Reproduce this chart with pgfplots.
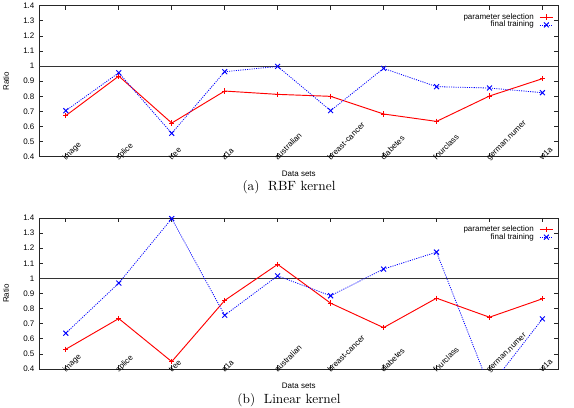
\documentclass[border=0pt]{standalone}
\usepackage{fontspec}
\newfontfamily\helv{Liberation Sans}
\usepackage{pgfplots}
\pgfplotsset{compat=1.18}

% Ratio of training time per data set, RBF and linear kernels
% columns: x index, parameter selection, final training
\newcommand{\rbfsel}{(0,0.672) (1,0.934) (2,0.623) (3,0.835) (4,0.813) (5,0.800) (6,0.683) (7,0.634) (8,0.802) (9,0.917)}
\newcommand{\rbffin}{(0,0.705) (1,0.956) (2,0.555) (3,0.963) (4,0.998) (5,0.705) (6,0.985) (7,0.864) (8,0.855) (9,0.824)}
\newcommand{\linsel}{(0,0.531) (1,0.734) (2,0.449) (3,0.854) (4,1.093) (5,0.836) (6,0.674) (7,0.869) (8,0.743) (9,0.865)}
\newcommand{\linfin}{(0,0.637) (1,0.969) (2,1.396) (3,0.756) (4,1.017) (5,0.885) (6,1.062) (7,1.174) (8,0.28) (9,0.732)}

\pgfplotsset{
  ratioaxis/.style={
    scale only axis,
    width=389.25pt, height=113.25pt,
    anchor=south west,
    xmin=-0.5, xmax=9.3,
    ymin=0.4, ymax=1.4,
    xtick={0,...,9},
    xticklabels={image,splice,tree,a1a,australian,breast-cancer,diabetes,fourclass,german.numer,w1a},
    ytick={0.4,0.5,0.6,0.7,0.8,0.9,1,1.1,1.2,1.3,1.4},
    yticklabels={0.4,0.5,0.6,0.7,0.8,0.9,1,1.1,1.2,1.3,1.4},
    tick align=inside,
    xtick pos=both, ytick pos=both,
    xticklabel pos=lower, yticklabel pos=left,
    major tick length=3pt,
    tick style={black!85, line width=0.5pt},
    axis line style={black!85, line width=0.7pt},
    font=\helv\fontsize{6}{7}\selectfont,
    /pgf/number format/assume math mode=true,
    xticklabel style={anchor=base west, rotate=45, inner sep=0pt},
    xticklabel shift=3pt,
    yticklabel style={anchor=east, inner sep=0pt, xshift=-3.5pt},
    xlabel={Data sets},
    ylabel={Ratio},
    xlabel style={at={(axis description cs:0.5,-0.11)}, anchor=center},
    ylabel style={at={(axis description cs:-0.0643,0.5)}, anchor=center},
    legend style={at={(axis description cs:0.999,0.975)}, anchor=north east,
      draw=none, fill=none, row sep=-1.2pt,
      nodes={inner sep=0.6pt},
      /tikz/every odd column/.append style={column sep=3.5pt}},
    legend cell align=right,
    legend plot pos=right,
    legend image code/.code={%
      \draw[mark repeat=2,mark phase=2,##1] plot coordinates {(0pt,0pt) (5pt,0pt) (10pt,0pt)};},
  },
  selstyle/.style={red, line width=0.7pt, mark=+, mark size=2pt, mark options={solid, line width=0.6pt}},
  finstyle/.style={blue, line width=0.6pt, dash pattern=on 0.8pt off 0.9pt, mark=x, mark size=2.6pt, mark options={solid, line width=0.7pt}},
  unitline/.style={black!80, line width=0.6pt, no marks, forget plot},
}

\begin{document}
\begin{tikzpicture}
\useasboundingbox (0,0) rectangle (430.5pt,305.25pt);

% (a) RBF kernel
\begin{axis}[ratioaxis, at={(29.5pt,187.7pt)}]
  \addplot[unitline] coordinates {(-0.5,1) (9.3,1)};
  \addplot[selstyle] coordinates {\rbfsel};
  \addlegendentry{parameter selection}
  \addplot[finstyle] coordinates {\rbffin};
  \addlegendentry{final training}
\end{axis}
\node[anchor=base, font=\fontsize{10}{12}\selectfont] at (216.75pt,162.2pt) {(a)\hspace{6.5pt}RBF kernel};

% (b) Linear kernel
\begin{axis}[ratioaxis, at={(29.5pt,28.5pt)}]
  \addplot[unitline] coordinates {(-0.5,1) (9.3,1)};
  \addplot[selstyle] coordinates {\linsel};
  \addlegendentry{parameter selection}
  \addplot[finstyle] coordinates {\linfin};
  \addlegendentry{final training}
\end{axis}
\node[anchor=base, font=\fontsize{10}{12}\selectfont] at (216.75pt,2.4pt) {(b)\hspace{6.5pt}Linear kernel};
\end{tikzpicture}
\end{document}
